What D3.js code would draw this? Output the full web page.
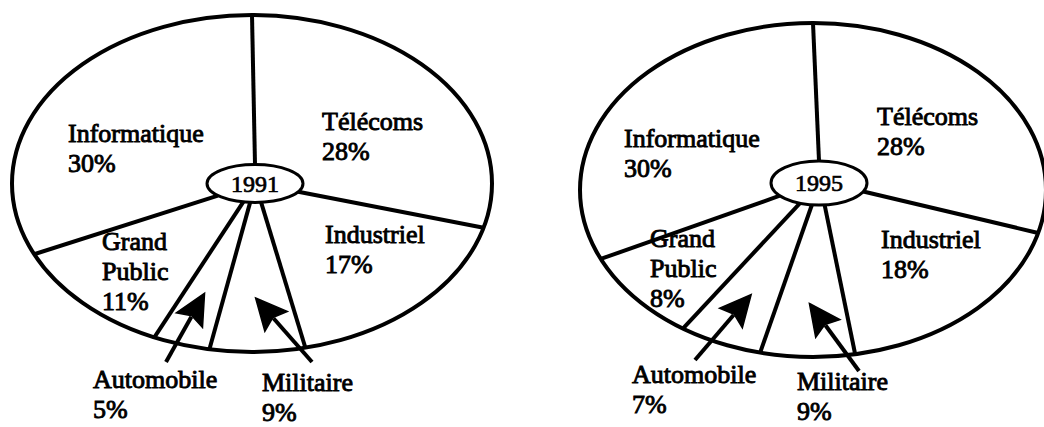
<!DOCTYPE html>
<html>
<head>
<meta charset="utf-8">
<script src="https://cdn.jsdelivr.net/npm/d3@7"></script>
<style>
  html, body { margin: 0; padding: 0; background: #fff; }
  svg { display: block; }
</style>
</head>
<body>
<svg id="chart" width="1044" height="427"></svg>
<script>
// Market breakdown by sector, clockwise from 12 o'clock
const categories = ["Télécoms", "Industriel", "Militaire", "Automobile", "Grand Public", "Informatique"];
const years = ["1991", "1995"];
const shares1991 = [28, 17, 9, 5, 11, 30];
const shares1995 = [28, 18, 9, 7, 8, 30];
const sharesByYear = [shares1991, shares1995];

// Sectors whose label sits outside the ellipse and points in with an arrow
const arrowed = ["Militaire", "Automobile"];

const FONT = "'Liberation Serif', 'Times New Roman', Tinos, 'Nimbus Roman', Times, serif";

// Geometry of each elliptical pie and its central year badge
const layout = [
  { cx: 252, cy: 183.5, rx: 240, ry: 168.5, icx: 255, icy: 183.5, irx: 48, iry: 19,
    labels: {
      "Télécoms": [322, 130], "Industriel": [325, 243], "Militaire": [262, 391],
      "Automobile": [93, 388], "Grand Public": [102, 250], "Informatique": [68, 142]
    },
    tails: { "Militaire": [50, -29], "Automobile": [73, -26] } },
  { cx: 813, cy: 190, rx: 233, ry: 167, icx: 819, icy: 183, irx: 48, iry: 22,
    labels: {
      "Télécoms": [877, 125], "Industriel": [881, 248], "Militaire": [797, 390],
      "Automobile": [632, 383], "Grand Public": [650, 247], "Informatique": [624, 147]
    },
    tails: { "Militaire": [62, -19], "Automobile": [63, -23] } }
];

const svg = d3.select("#chart");
const LINE_H = 30;

// distance from centre to an ellipse boundary along direction theta (0 = up, clockwise)
function ellipseR(theta, rx, ry) {
  const s = Math.sin(theta), c = Math.cos(theta);
  return 1 / Math.sqrt((s / rx) * (s / rx) + (c / ry) * (c / ry));
}
function onEllipse(theta, cx, cy, rx, ry, k = 1) {
  const r = ellipseR(theta, rx, ry) * k;
  return [cx + r * Math.sin(theta), cy - r * Math.cos(theta)];
}

const pie = d3.pie().sort(null).value(d => d.value);

sharesByYear.forEach((shares, i) => {
  const L = layout[i];
  const data = categories.map((name, j) => ({ name, value: shares[j] }));
  const arcs = pie(data);
  const g = svg.append("g");

  // outer ellipse
  g.append("ellipse")
    .attr("cx", L.cx).attr("cy", L.cy).attr("rx", L.rx).attr("ry", L.ry)
    .attr("fill", "none").attr("stroke", "#000").attr("stroke-width", 4);

  // slice boundaries run from the year badge out to the rim
  g.selectAll("line.spoke").data(arcs).join("line")
    .attr("class", "spoke")
    .each(function (d) {
      const a = d.startAngle;
      const p0 = onEllipse(a, L.icx, L.icy, L.irx, L.iry);
      const p1 = onEllipse(a, L.cx, L.cy, L.rx, L.ry);
      d3.select(this)
        .attr("x1", p0[0]).attr("y1", p0[1])
        .attr("x2", p1[0]).attr("y2", p1[1]);
    })
    .attr("stroke", "#000").attr("stroke-width", 4);

  // year badge
  g.append("ellipse")
    .attr("cx", L.icx).attr("cy", L.icy).attr("rx", L.irx).attr("ry", L.iry)
    .attr("fill", "#fff").attr("stroke", "#000").attr("stroke-width", 3);
  g.append("text")
    .attr("x", L.icx).attr("y", L.icy + 8)
    .attr("text-anchor", "middle")
    .attr("font-family", FONT)
    .attr("font-size", 24)
    .attr("fill", "#000")
    .attr("stroke", "#000").attr("stroke-width", 0.7)
    .text(years[i]);

  // arrows for the narrow slices
  arcs.filter(d => arrowed.includes(d.data.name)).forEach(d => {
    const mid = (d.startAngle + d.endAngle) / 2;
    const tip = onEllipse(mid, L.cx, L.cy, L.rx, L.ry, 0.68);
    const lp = L.labels[d.data.name], off = L.tails[d.data.name];
    const tail = [lp[0] + off[0], lp[1] + off[1]];
    const dx = tip[0] - tail[0], dy = tip[1] - tail[1];
    const len = Math.hypot(dx, dy), ux = dx / len, uy = dy / len;
    const headL = 31, headW = 15;
    const bx = tip[0] - ux * headL, by = tip[1] - uy * headL;
    g.append("line")
      .attr("x1", tail[0]).attr("y1", tail[1])
      .attr("x2", tip[0] - ux * (headL - 4)).attr("y2", tip[1] - uy * (headL - 4))
      .attr("stroke", "#000").attr("stroke-width", 4);
    g.append("path")
      .attr("d", d3.line()([
        tip,
        [bx - uy * headW, by + ux * headW],
        [tip[0] - ux * (headL - 5), tip[1] - uy * (headL - 5)],
        [bx + uy * headW, by - ux * headW]
      ]) + "Z")
      .attr("fill", "#000").attr("stroke", "#000").attr("stroke-width", 1.5)
      .attr("stroke-linejoin", "miter");
  });

  // sector labels with their share
  arcs.forEach(d => {
    const [x, y] = L.labels[d.data.name];
    const lines = d.data.name === "Grand Public" ? d.data.name.split(" ") : [d.data.name];
    lines.push(d.data.value + "%");
    const t = g.append("text")
      .attr("x", x).attr("y", y)
      .attr("font-family", FONT)
      .attr("font-size", 26)
      .attr("fill", "#000")
      .attr("stroke", "#000").attr("stroke-width", 0.9);
    lines.forEach((s, k) => {
      t.append("tspan").attr("x", x).attr("y", y + k * LINE_H).text(s);
    });
  });
});
</script>
</body>
</html>
